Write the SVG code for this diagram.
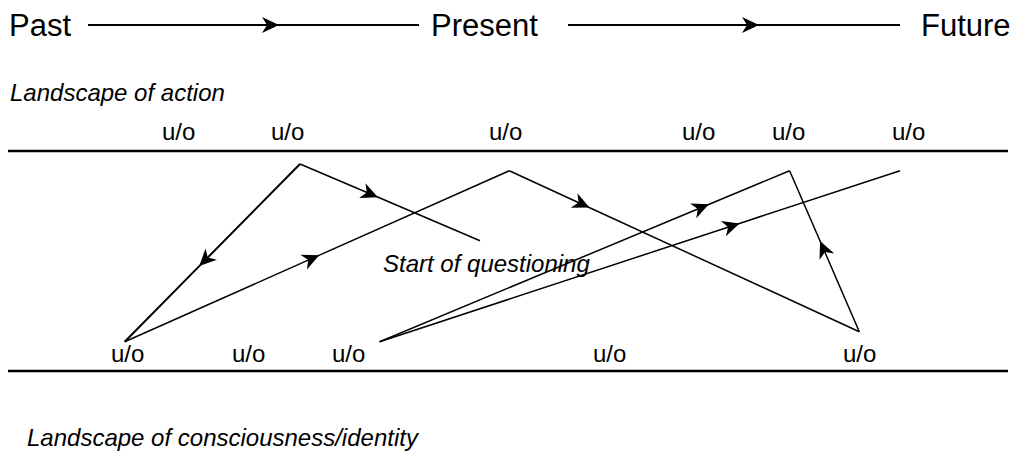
<svg xmlns="http://www.w3.org/2000/svg" width="1016" height="454" viewBox="0 0 1016 454">
<style>
text{font-family:"Liberation Sans",Arial,Helvetica,sans-serif;fill:#000}
.big{font-size:31px}
.uo{font-size:24px}
.it{font-size:24px;font-style:italic}
.rule{stroke:#000;stroke-width:2.5;fill:none}
.time{stroke:#000;stroke-width:2;fill:none;marker-mid:url(#ah)}
.con{stroke:#000;stroke-width:1.5;fill:none;marker-mid:url(#ah)}
.bold{stroke-width:2}
</style>
<defs>
<marker id="ah" markerUnits="userSpaceOnUse" markerWidth="20" markerHeight="18" viewBox="-17 -9 20 18" refX="0" refY="0" orient="auto" overflow="visible">
<path d="M1,0 L-16,-8 L-11,0 L-16,8 Z" fill="#000"/>
</marker>
</defs>
<rect width="1016" height="454" fill="#fff"/>
<g id="past"><text class="big" x="9" y="36">Past</text></g>
<g id="present"><text class="big" x="431" y="36">Present</text></g>
<g id="future"><text class="big" x="921" y="36">Future</text></g>
<g id="landscape-action"><text class="it" x="10" y="101">Landscape of action</text></g>
<g id="landscape-identity"><text class="it" x="27" y="446">Landscape of consciousness/identity</text></g>
<g id="start-questioning"><text class="it" x="383" y="272">Start of questioning</text></g>
<g id="rules">
<line class="rule" x1="8" y1="151" x2="1008" y2="151"/>
<line class="rule" x1="8" y1="371" x2="1008" y2="371"/>
</g>
<g id="top-uo">
<g id="a1"><text class="uo" x="162" y="140">u/o</text></g>
<g id="a2"><text class="uo" x="271" y="140">u/o</text></g>
<g id="a3"><text class="uo" x="489" y="140">u/o</text></g>
<g id="a4"><text class="uo" x="682" y="140">u/o</text></g>
<g id="a5"><text class="uo" x="772" y="140">u/o</text></g>
<g id="a6"><text class="uo" x="892" y="140">u/o</text></g>
</g>
<g id="bottom-uo">
<g id="b1"><text class="uo" x="111" y="362">u/o</text></g>
<g id="b2"><text class="uo" x="232" y="362">u/o</text></g>
<g id="b3"><text class="uo" x="332" y="362">u/o</text></g>
<g id="b4"><text class="uo" x="593" y="362">u/o</text></g>
<g id="b5"><text class="uo" x="843" y="362">u/o</text></g>
</g>
<g id="connectors">
<polyline class="time" points="88,25 278,25 419,25"/>
<polyline class="time" points="568,25 758,25 900,25"/>
<polyline class="con" points="300,164 377,196.8 480,240.7"/>
<polyline class="con bold" points="300,164 200,265.4 124.7,341.7"/>
<polyline class="con" points="124.7,341.7 318.3,255.6 509.3,170.7"/>
<polyline class="con" points="509.3,170.7 588.6,207.2 859.3,331.7"/>
<polyline class="con" points="859.3,331.7 820.5,242 789.6,170.7"/>
<polyline class="con" points="379.6,341.7 708,204.7 789.6,170.7"/>
<polyline class="con" points="379.6,341.7 738.6,223.7 900,170.7"/>
</g>
</svg>
